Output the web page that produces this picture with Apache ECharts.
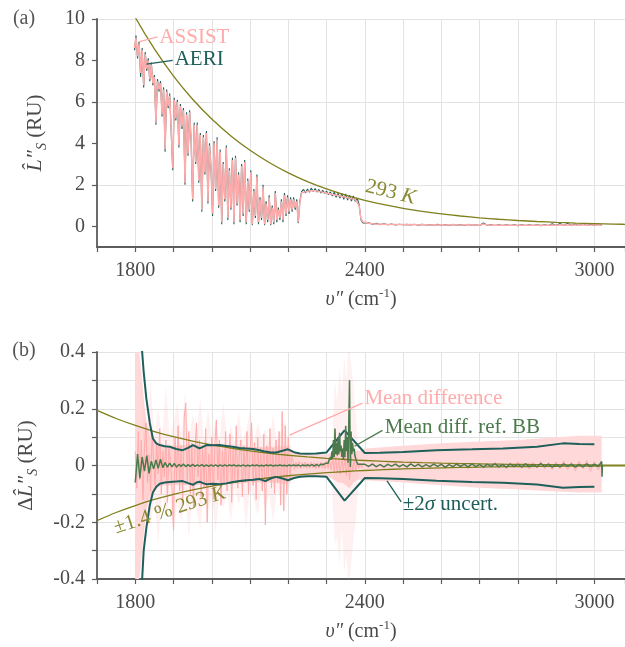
<!DOCTYPE html>
<html><head><meta charset="utf-8">
<script src="https://cdn.jsdelivr.net/npm/echarts@6/dist/echarts.min.js"></script>
<style>html,body{margin:0;padding:0;background:#fff}#c{width:625px;height:647px}</style>
</head><body><div id="c"></div>
<script>
// ---------------- tick labels ----------------
const xTickLabels = [1800, 2400, 3000];
const yTickLabelsA = [0, 2, 4, 6, 8, 10];
const yTickLabelsB = [-0.4, -0.2, 0, 0.2, 0.4];

// ---------------- panel (a): spectra ----------------
// segment grids: [start wavenumber, step]
const specGrid1 = [1798, 4];
const specGrid2 = [2235, 5];
const specGrid3 = [2410, 10];
const assist1 = [8.6,9.1,8.2,8.8,7.4,8.5,6.8,8.3,7.6,8.0,
7.1,7.8,6.9,7.2,5.0,7.0,6.6,6.9,5.4,6.6,
3.7,6.5,5.8,6.3,4.6,2.8,6.1,5.2,6.0,3.9,
5.8,4.8,5.6,2.1,5.4,3.5,5.5,4.2,1.3,4.9,
3.1,4.9,2.2,4.4,0.8,4.3,2.6,4.5,1.2,3.9,
2.9,0.6,4.0,1.8,4.2,1.0,3.6,0.2,3.0,1.3,
3.8,0.4,2.7,0.9,3.2,0.2,3.3,1.1,2.5,0.3,
2.9,0.6,3.1,0.2,2.2,0.8,2.6,0.1,1.7,0.5,
2.4,0.2,1.3,0.4,1.9,0.1,1.1,0.3,1.4,0.1,
0.9,0.2,1.6,0.3,0.8,0.4,1.2,0.3,1.5,0.6,
1.4,0.7,1.3,0.8,1.3,0.9,1.2,0.2,1.1];
const aeri1 = [8.5,9.2,8.1,8.9,7.2,8.6,6.7,8.4,7.5,8.1,
7.0,7.9,6.8,7.3,4.9,7.1,6.5,7.0,5.3,6.7,
3.6,6.6,5.7,6.4,4.5,2.7,6.2,5.1,6.1,3.8,
5.9,4.7,5.7,2.0,5.5,3.4,5.6,4.1,1.2,5.0,
3.0,5.0,2.1,4.5,0.7,4.4,2.5,4.6,1.1,4.0,
2.8,0.5,4.1,1.7,4.3,0.9,3.7,0.1,3.1,1.2,
3.9,0.3,2.8,0.8,3.3,0.1,3.4,1.0,2.6,0.2,
3.0,0.5,3.2,0.1,2.3,0.7,2.7,0.05,1.8,0.4,
2.5,0.1,1.4,0.3,2.0,0.05,1.2,0.2,1.5,0.05,
1.0,0.1,1.7,0.2,0.9,0.3,1.3,0.2,1.6,0.5,
1.5,0.6,1.4,0.7,1.4,0.8,1.3,0.15,1.2];
const assist2 = [1.62,1.70,1.66,1.74,1.70,1.77,1.72,1.76,1.70,1.72,
1.66,1.68,1.62,1.63,1.58,1.58,1.53,1.54,1.50,1.50,
1.46,1.46,1.42,1.42,1.38,1.37,1.33,1.32,1.30,1.28,
1.00,0.35,0.22,0.18];
const aeri2 = [1.68,1.78,1.60,1.80,1.64,1.84,1.68,1.82,1.65,1.78,
1.60,1.74,1.58,1.70,1.52,1.66,1.46,1.64,1.40,1.60,
1.36,1.58,1.30,1.56,1.26,1.50,1.22,1.46,1.20,1.36,
1.05,0.30,0.16,0.14];
const assist3 = [0.15,0.12,0.11,0.10,0.10,0.09,0.09,0.08,0.08,0.08,
0.07,0.08,0.07,0.07,0.08,0.07,0.06,0.07,0.06,0.07,
0.06,0.06,0.07,0.06,0.06,0.06,0.07,0.06,0.06,0.05,
0.11,0.06,0.05,0.06,0.05,0.05,0.06,0.05,0.05,0.05,
0.06,0.05,0.05,0.05,0.06,0.05,0.05,0.05,0.06,0.05,
0.06,0.07,0.05,0.06,0.06,0.05,0.07,0.05,0.06,0.06,
0.07,0.06];
const aeri3 = [0.17,0.10,0.14,0.08,0.12,0.07,0.11,0.06,0.10,0.07,
0.09,0.06,0.10,0.05,0.09,0.06,0.08,0.05,0.09,0.05,
0.08,0.04,0.09,0.05,0.08,0.04,0.09,0.05,0.07,0.04,
0.16,0.05,0.07,0.04,0.07,0.04,0.08,0.04,0.07,0.03,
0.08,0.04,0.07,0.04,0.08,0.03,0.07,0.04,0.12,0.04,
0.13,0.05,0.14,0.05,0.11,0.04,0.13,0.04,0.10,0.05,
0.11,0.05];

// 293 K blackbody (RU) and its ±1.4 %
const bbNu = [1700,1750,1800,1850,1900,1950,2000,2050,2100,2150,2200,2250,2300,2350,2400,2450,2500,2550,2600,2650,2700,2750,2800,2850,2900,2950,3000,3050,3100];
const bb293 = [13.86,11.83,10.08,8.554,7.249,6.130,5.174,4.359,3.666,3.077,2.579,2.158,1.803,1.505,1.254,1.0437,0.8674,0.7200,0.5971,0.4946,0.4092,0.3383,0.2793,0.2304,0.1899,0.1564,0.1287,0.1058,0.0869];
const pct14Up = [0.194,0.1656,0.1411,0.1198,0.1015,0.0858,0.0724,0.0610,0.0513,0.0431,0.0361,0.0302,0.0252,0.0211,0.0176,0.0146,0.0121,0.0101,0.0084,0.0069,0.0057,0.0047,0.0039,0.0032,0.0027,0.0022,0.0018,0.0015,0.0012];
const pct14Lo = [-0.194,-0.1656,-0.1411,-0.1198,-0.1015,-0.0858,-0.0724,-0.0610,-0.0513,-0.0431,-0.0361,-0.0302,-0.0252,-0.0211,-0.0176,-0.0146,-0.0121,-0.0101,-0.0084,-0.0069,-0.0057,-0.0047,-0.0039,-0.0032,-0.0027,-0.0022,-0.0018,-0.0015,-0.0012];

// ---------------- panel (b) ----------------
const sigmaNu = [1814,1818,1822,1829,1838,1846,1855,1864,1877,1890,1907,1924,1938,1951,1960,1968,1977,1986,2003,2020,2038,2055,2072,2090,2108,2125,2140,2155,2168,2185,2199,2215,2230,2250,2273,2300,2347,2400,2439,2500,2587,2680,2761,2850,2918,2960,3000];
const sigma2Up = [0.55,0.40,0.33,0.236,0.15,0.095,0.078,0.072,0.068,0.066,0.058,0.054,0.062,0.072,0.066,0.060,0.066,0.072,0.071,0.072,0.069,0.066,0.062,0.060,0.058,0.054,0.049,0.046,0.046,0.052,0.057,0.047,0.042,0.041,0.042,0.046,0.124,0.044,0.045,0.048,0.054,0.057,0.060,0.066,0.078,0.076,0.075];
const sigma2Lo = [-0.55,-0.40,-0.30,-0.22,-0.14,-0.095,-0.075,-0.064,-0.060,-0.058,-0.056,-0.055,-0.062,-0.068,-0.060,-0.057,-0.062,-0.066,-0.064,-0.066,-0.063,-0.058,-0.055,-0.052,-0.050,-0.048,-0.055,-0.045,-0.040,-0.046,-0.052,-0.044,-0.040,-0.038,-0.038,-0.040,-0.124,-0.044,-0.045,-0.048,-0.054,-0.058,-0.061,-0.067,-0.078,-0.076,-0.075];

const meanGrid1 = [1800, 4];
const meanGrid2 = [2212, 4];
const meanGrid3 = [2400, 10];
const meanDiff1 = [0.05,-0.08,0.12,-0.05,0.09,-0.12,0.06,0.15,-0.06,0.04,
-0.09,0.11,0.02,-0.07,0.08,-0.03,0.13,-0.1,0.05,-0.04,
0.09,-0.13,0.06,0.02,-0.08,-0.23,0.1,-0.05,0.14,-0.09,
0.07,-0.12,0.17,0.22,-0.06,0.12,-0.1,0.08,-0.15,0.05,
0.15,-0.04,0.09,-0.11,0.06,-0.08,0.13,-0.2,0.04,-0.07,
0.1,-0.12,0.07,0.16,-0.05,0.09,-0.14,0.05,-0.06,0.12,
-0.09,0.03,0.11,-0.13,0.06,-0.05,0.14,-0.08,0.04,0.09,
-0.11,0.07,-0.06,0.12,-0.1,0.05,0.15,-0.07,0.08,-0.12,
0.1,-0.05,0.06,-0.09,0.11,-0.21,0.07,-0.04,0.13,-0.08,
0.06,-0.1,0.09,-0.06,0.12,-0.14,0.19,-0.16,0.14,-0.1,
0.1,-0.05,0.03];
const meanDiff2 = [0.02,-0.015,0.012,-0.01,0.015,-0.012,0.01,-0.008,0.012,-0.01,
0.008,-0.01,0.012,-0.008,0.01,-0.012,0.008,-0.01,0.012,-0.008,
0.01,-0.012,0.015,-0.01,0.02,-0.015,0.025,-0.02,0.03,-0.025,
0.02,-0.03,0.025,-0.02,0.03,-0.035,0.04,-0.05,0.03,-0.02,
0.02,-0.015,0.012,-0.01,0.008,-0.008,0.006];
const meanDiff3 = [0.008,-0.006,0.01,-0.008,0.006,-0.01,0.008,-0.005,0.009,-0.007,
0.006,-0.01,0.008,-0.006,0.01,-0.008,0.005,-0.009,0.007,-0.006,
0.009,-0.011,0.006,-0.008,0.01,-0.007,0.008,-0.012,0.007,-0.006,
0.009,-0.01,0.008,-0.007,0.011,-0.009,0.006,-0.012,0.01,-0.008,
0.012,-0.01,0.009,-0.013,0.011,-0.009,0.014,-0.012,0.01,-0.015,
0.013,-0.011,0.016,-0.014,0.012,-0.018,0.015,-0.012,0.017,-0.02,
0.014,-0.016,0.01];

const bandNu = [1800,1806,1810,1814,1818,1822,1826,1830,1836,1842,1850,1870,1900,1950,2000,2050,2100,2150,2200,2210,2250,2300,2320,2330,2340,2350,2360,2370,2380,2390,2400,2500,2600,2700,2800,2900,2960,3000,3019];
const bandUp = [0.4,0.4,0.4,0.36,0.3,0.24,0.19,0.15,0.12,0.1,0.085,0.07,0.07,0.075,0.07,0.07,0.065,0.065,0.07,0.05,0.04,0.04,0.05,0.06,0.06,0.07,0.08,0.06,0.05,0.055,0.06,0.07,0.078,0.085,0.09,0.1,0.105,0.105,0.105];
const bandLo = [-0.4,-0.4,-0.4,-0.36,-0.3,-0.24,-0.19,-0.15,-0.12,-0.1,-0.085,-0.07,-0.07,-0.07,-0.065,-0.065,-0.06,-0.06,-0.065,-0.045,-0.04,-0.04,-0.05,-0.06,-0.06,-0.07,-0.08,-0.06,-0.05,-0.05,-0.052,-0.06,-0.07,-0.078,-0.085,-0.092,-0.095,-0.095,-0.095];
const faintAGrid = [1820, 10];
const faintAUp = [0.25,0.12,0.3,0.1,0.2,0.09,0.28,0.1,0.15,0.22,0.1,0.26,0.09,0.18,0.12,0.24,0.08,0.2,0.1,0.16,0.09,0.22,0.1,0.14,0.08,0.19,0.09,0.12,0.2,0.08,0.15,0.1,0.13,0.08,0.18,0.09,0.12,0.16,0.08,0.06];
const faintALo = [-0.3,-0.12,-0.22,-0.1,-0.28,-0.09,-0.18,-0.1,-0.25,-0.12,-0.2,-0.09,-0.26,-0.1,-0.16,-0.22,-0.09,-0.18,-0.1,-0.24,-0.09,-0.15,-0.1,-0.2,-0.08,-0.14,-0.09,-0.22,-0.08,-0.12,-0.18,-0.08,-0.15,-0.1,-0.2,-0.08,-0.12,-0.16,-0.08,-0.05];
const faintBNu = [2316,2322,2328,2334,2340,2346,2352,2356,2360,2364,2370,2376,2382];
const faintBUp = [0.15,0.3,0.22,0.35,0.25,0.38,0.3,0.4,0.4,0.36,0.28,0.18,0.08];
const faintBLo = [-0.15,-0.28,-0.25,-0.35,-0.22,-0.38,-0.32,-0.4,-0.4,-0.35,-0.26,-0.2,-0.08];

const bbRefGrid1 = [1800, 6];
const bbRefGrid2 = [2300, 2];
const bbRefGrid3 = [2400, 10];
const bbRef1 = [-0.06,0.04,-0.045,0.03,-0.02,0.035,-0.028,0.015,-0.012,0.02,
-0.01,0.022,-0.008,0.01,-0.006,0.008,-0.005,0.007,-0.006,0.004,
-0.003,0.005,-0.004,0.003,-0.003,0.004,-0.003,0.002,-0.002,0.003,
-0.003,0.002,-0.003,0.002,-0.002,0.002,-0.003,0.002,-0.002,0.002,
-0.002,0.002,-0.001,0.002,-0.002,0.001,-0.002,0.002,-0.002,0.001,
-0.002,0.002,-0.001,0.002,-0.002,0.001,-0.002,0.002,-0.001,0.002,
-0.002,0.001,-0.001,0.002,-0.001,0.001,-0.002,0.002,-0.001,0.002,
-0.001,0.002,-0.002,0.002,-0.001,0.002,-0.001,0.003,-0.002,0.004,
-0.001,0.005,0.003,0.008];
const bbRef2 = [0.005,0.012,0.008,0.018,0.012,0.03,0.02,0.05,0.025,0.09,
0.03,0.13,0.04,0.08,0.035,0.10,0.04,0.115,0.05,0.07,
0.03,0.06,0.02,0.09,0.03,0.14,0.05,0.10,0.01,0.15,
0.30,-0.005,0.12,0.04,0.08,0.05,0.06,0.035,0.03,0.015,
0.008,0.004,0.003,0.0,0.004,-0.002];
const bbRef3 = [0.004,-0.003,0.005,-0.004,0.003,-0.005,0.004,-0.002,0.005,-0.004,
0.003,-0.005,0.006,-0.003,0.004,-0.005,0.003,-0.004,0.005,-0.003,
0.004,-0.006,0.003,-0.004,0.005,-0.003,0.004,-0.005,0.006,-0.004,
0.003,-0.005,0.004,-0.003,0.006,-0.004,0.003,-0.006,0.005,-0.003,
0.004,-0.005,0.006,-0.004,0.003,-0.005,0.007,-0.004,0.005,-0.006,
0.004,-0.005,0.006,-0.003,0.005,-0.006,0.004,-0.005,0.006,-0.004,
0.005,-0.004];
const bbRefTailNu = [3019, 3020, 3021];
const bbRefTail = [0.014, -0.04, 0.002];

// ---------------- helpers ----------------
const FONT = '"Liberation Serif", "Times New Roman", serif';
const onGrid = (g, vals) => vals.map((v, i) => [g[0] + g[1] * i, v]);
const zipXY = (xs, ys) => xs.map((x, i) => [x, ys[i]]);

const C = {
  pink: '#ffabab', teal: '#1f5f5b', olive: '#7f7f1c', oliveText: '#8a8a34',
  green: '#4b7a4d', band: '#ffd9d9', grid: '#e3e3e3', axis: '#5c5c5c', text: '#4a4a4a'
};

function bandSeries(xs, up, lo, fill, z) {
  return {
    type: 'custom', xAxisIndex: 1, yAxisIndex: 1, z: z, silent: true,
    data: [[xs[0], 0]], encode: { x: 0, y: 1 },
    renderItem: (params, api) => {
      const pts = [];
      for (let i = 0; i < xs.length; i++) pts.push(api.coord([xs[i], up[i]]));
      for (let i = xs.length - 1; i >= 0; i--) pts.push(api.coord([xs[i], lo[i]]));
      return { type: 'polygon', shape: { points: pts }, style: { fill: fill } };
    }
  };
}
function lineSeries(ax, data, color, width, z, extra) {
  return Object.assign({
    type: 'line', xAxisIndex: ax, yAxisIndex: ax, data: data, symbol: 'none',
    lineStyle: { color: color, width: width }, z: z, silent: true, animation: false
  }, extra || {});
}

const xAxisBase = (gi) => ({
  type: 'value', gridIndex: gi, min: 1700, max: 3080, interval: 100,
  axisLine: { show: true, onZero: false, lineStyle: { color: C.axis, width: 1.8 } },
  axisTick: { show: true, length: 5, lineStyle: { color: C.axis, width: 1.2 } },
  axisLabel: { customValues: xTickLabels, fontFamily: FONT, fontSize: 20, color: C.text, margin: 14,
    formatter: v => String(v) },
  splitLine: { show: true, lineStyle: { color: C.grid, width: 1 } },
  name: '{i|υ″} (cm{sup|-1})', nameLocation: 'middle', nameGap: 40,
  nameTextStyle: { fontFamily: FONT, fontSize: 20, color: C.text, lineHeight: 26,
    rich: { i: { fontFamily: FONT, fontStyle: 'italic', fontSize: 20, color: C.text, lineHeight: 26 },
            sup: { fontFamily: FONT, fontSize: 13, color: C.text, lineHeight: 14, verticalAlign: 'top' } } }
});

const option = {
  animation: false,
  backgroundColor: '#fff',
  grid: [
    { left: 97, top: 19, right: 0, height: 228 },
    { left: 97, top: 352, right: 0, height: 227 }
  ],
  xAxis: [xAxisBase(0), xAxisBase(1)],
  yAxis: [
    { type: 'value', gridIndex: 0, min: -1, max: 10, interval: 1,
      axisLine: { show: true, lineStyle: { color: C.axis, width: 1.8 } },
      axisTick: { show: true, length: 5, customValues: yTickLabelsA, lineStyle: { color: C.axis, width: 1.2 } },
      axisLabel: { customValues: yTickLabelsA, fontFamily: FONT, fontSize: 20, color: C.text, margin: 12,
        formatter: v => String(v) },
      splitLine: { show: true, lineStyle: { color: ['rgba(0,0,0,0)', C.grid], width: 1 } },
      name: '{i|L̂″}{s|S}{n| (RU)}', nameLocation: 'middle', nameRotate: 90, nameGap: 48,
      nameTextStyle: { fontFamily: FONT, fontSize: 20, color: C.text,
        rich: { i: { fontFamily: FONT, fontStyle: 'italic', fontSize: 22, color: C.text, lineHeight: 28 },
                s: { fontFamily: FONT, fontStyle: 'italic', fontSize: 14, color: C.text, lineHeight: 14, verticalAlign: 'bottom' },
                n: { fontFamily: FONT, fontSize: 21, color: C.text, lineHeight: 28 } } } },
    { type: 'value', gridIndex: 1, min: -0.4, max: 0.4, interval: 0.1,
      axisLine: { show: true, lineStyle: { color: C.axis, width: 1.8 } },
      axisTick: { show: true, length: 5, lineStyle: { color: C.axis, width: 1.2 } },
      axisLabel: { customValues: yTickLabelsB, fontFamily: FONT, fontSize: 20, color: C.text, margin: 12,
        formatter: v => String(Math.round(v * 10) / 10) },
      splitLine: { show: true, lineStyle: { color: C.grid, width: 1 } },
      name: '{n|Δ}{i|L̂″}{s|S}{n| (RU)}', nameLocation: 'middle', nameRotate: 90, nameGap: 57,
      nameTextStyle: { fontFamily: FONT, fontSize: 20, color: C.text,
        rich: { i: { fontFamily: FONT, fontStyle: 'italic', fontSize: 22, color: C.text, lineHeight: 28 },
                s: { fontFamily: FONT, fontStyle: 'italic', fontSize: 14, color: C.text, lineHeight: 14, verticalAlign: 'bottom' },
                n: { fontFamily: FONT, fontSize: 21, color: C.text, lineHeight: 28 } } } }
  ],
  series: [
    // panel (a)
    lineSeries(0, onGrid(specGrid1, aeri1).concat(onGrid(specGrid2, aeri2), onGrid(specGrid3, aeri3)), C.teal, 1.1, 2),
    lineSeries(0, onGrid(specGrid1, assist1).concat(onGrid(specGrid2, assist2), onGrid(specGrid3, assist3)), C.pink, 1.5, 3),
    lineSeries(0, zipXY(bbNu, bb293), C.olive, 1.3, 4, { smooth: 0.3 }),
    // panel (b)
    bandSeries(bandNu, bandUp, bandLo, C.band, 1),
    bandSeries(onGrid(faintAGrid, faintAUp).map(p => p[0]), faintAUp, faintALo, 'rgba(255,170,170,0.16)', 1),
    bandSeries(faintBNu, faintBUp, faintBLo, 'rgba(255,170,170,0.16)', 1),
    lineSeries(1, onGrid(meanGrid1, meanDiff1).concat(onGrid(meanGrid2, meanDiff2), onGrid(meanGrid3, meanDiff3)), C.pink, 1, 2),
    lineSeries(1, zipXY(bbNu, pct14Up), C.olive, 1.3, 3, { smooth: 0.3 }),
    lineSeries(1, zipXY(bbNu, pct14Lo), C.olive, 1.3, 3, { smooth: 0.3 }),
    lineSeries(1, zipXY(sigmaNu, sigma2Up), C.teal, 2, 4),
    lineSeries(1, zipXY(sigmaNu, sigma2Lo), C.teal, 2, 4),
    lineSeries(1, onGrid(bbRefGrid1, bbRef1).concat(onGrid(bbRefGrid2, bbRef2), onGrid(bbRefGrid3, bbRef3), zipXY(bbRefTailNu, bbRefTail)), C.green, 1.5, 5)
  ]
};

const chart = echarts.init(document.getElementById('c'), null, { renderer: 'canvas' });
chart.setOption(option);

// ---------------- annotations (data coordinates) ----------------
const annotations = [
  { g: 0, from: [1809, 8.9], to: [1858, 9.14], text: 'ASSIST', at: [1863, 9.12], color: C.pink },
  { g: 0, from: [1829, 7.82], to: [1898, 8.0], text: 'AERI', at: [1903, 8.06], color: C.teal },
  { g: 1, from: [2203, 0.107], to: [2394, 0.22], text: 'Mean difference', at: [2399, 0.235], color: C.pink },
  { g: 1, from: [2373, 0.068], to: [2446, 0.124], text: 'Mean diff. ref. BB', at: [2452, 0.133], color: C.green },
  { g: 1, from: [2458, -0.054], to: [2495, -0.128], text: '±2{it|σ} uncert.', at: [2499, -0.136], color: C.teal }
];
const rotated = [
  { g: 0, at: [2467, 1.64], text: '293 {it|K}', rot: -14, color: C.oliveText },
  { g: 1, at: [1890, -0.158], text: '±1.4 % 293 {it|K}', rot: 18, color: C.oliveText }
];
const els = [];
const px = (g, p) => chart.convertToPixel({ gridIndex: g }, p);
annotations.forEach(a => {
  const p1 = px(a.g, a.from), p2 = px(a.g, a.to), pt = px(a.g, a.at);
  els.push({ type: 'line', silent: true, z: 10, shape: { x1: p1[0], y1: p1[1], x2: p2[0], y2: p2[1] },
    style: { stroke: a.color, lineWidth: 1.3 } });
  els.push({ type: 'text', silent: true, z: 10, x: pt[0], y: pt[1],
    style: { text: a.text, fill: a.color, font: '21px ' + FONT, textAlign: 'left', textVerticalAlign: 'middle',
      rich: { it: { fontStyle: 'italic', fontSize: 21, fontFamily: FONT, fill: a.color } } } });
});
rotated.forEach(a => {
  const pt = px(a.g, a.at);
  els.push({ type: 'text', silent: true, z: 10, x: pt[0], y: pt[1], rotation: a.rot * Math.PI / 180,
    style: { text: a.text, fill: a.color, font: '21px ' + FONT, textAlign: 'center', textVerticalAlign: 'middle',
      rich: { it: { fontStyle: 'italic', fontSize: 21, fontFamily: FONT, fill: a.color } } } });
});
els.push({ type: 'text', silent: true, x: 24, y: 19, style: { text: '(a)', fill: '#555', font: '20px ' + FONT, textAlign: 'center', textVerticalAlign: 'middle' } });
els.push({ type: 'text', silent: true, x: 24, y: 351, style: { text: '(b)', fill: '#555', font: '20px ' + FONT, textAlign: 'center', textVerticalAlign: 'middle' } });
chart.setOption({ graphic: { elements: els } });
</script>
</body></html>
